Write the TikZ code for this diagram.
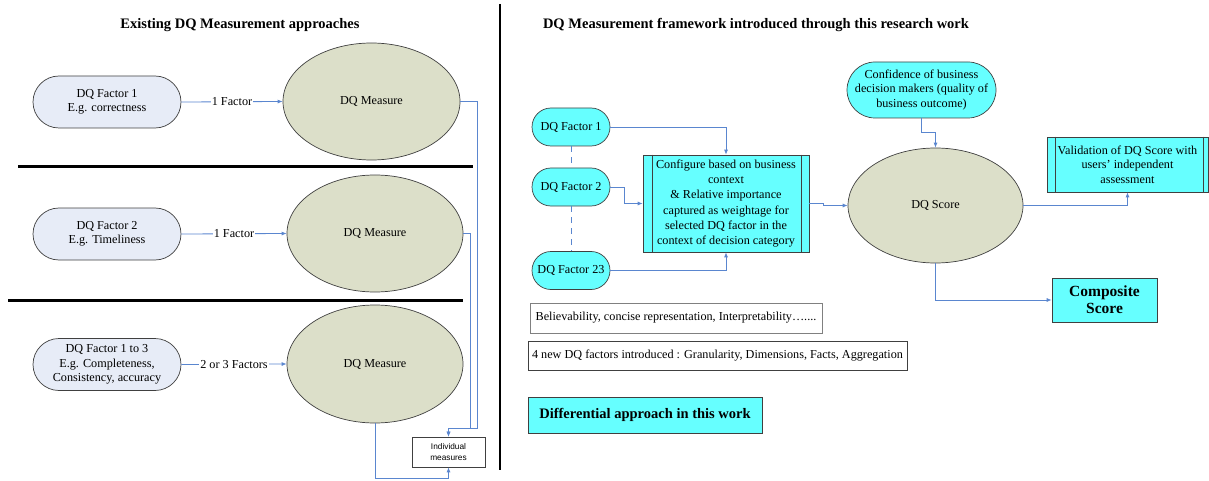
\documentclass[tikz,border=0pt]{standalone}
\usepackage{fontspec}
\setmainfont{Liberation Serif}
\newfontfamily\arialfont{Liberation Sans}
\usetikzlibrary{arrows.meta,calc,shapes.geometric}
\definecolor{linkblue}{HTML}{5A86CF}
\definecolor{aqua}{HTML}{66FFFF}
\definecolor{olive}{HTML}{DCDFC9}
\definecolor{paleblue}{HTML}{E7ECF7}
\definecolor{edge}{HTML}{404040}
\tikzset{
  conn/.style={draw=linkblue, line width=0.8pt, -{Latex[length=5pt,width=4pt]}},
  plainlink/.style={draw=linkblue, line width=1pt},
  pill/.style={draw=edge, line width=0.7pt, rounded corners=#1, align=center, inner sep=0pt},
  oldfactor/.style={pill=26pt, fill=paleblue, minimum width=148pt, minimum height=52pt, font=\fontsize{12.2}{14.5}\selectfont},
  newfactor/.style={pill=19pt, fill=aqua, minimum width=78pt, minimum height=38pt, font=\fontsize{12.2}{14.5}\selectfont},
  measure/.style={ellipse, draw=edge, line width=0.7pt, fill=olive, inner sep=0pt, font=\fontsize{12.2}{14.5}\selectfont},
  procbox/.style={draw=edge, line width=0.7pt, fill=aqua, align=center, inner sep=0pt},
  notebox/.style={draw=gray, line width=0.8pt, fill=white, inner sep=0pt, font=\fontsize{12.2}{14.5}\selectfont},
  divider/.style={line width=2.4pt, black},
  heading/.style={font=\fontsize{14.5}{17}\selectfont\bfseries},
  flabel/.style={fill=white, inner sep=1pt, font=\fontsize{12.2}{14}\selectfont}
}
\begin{document}
\begin{tikzpicture}[x=1pt,y=-1pt]
\useasboundingbox (0,0) rectangle (1209,481);

% headings and dividing rules
\node[heading] (h1) at (240,25) {Existing DQ Measurement approaches};
\node[heading] (h2) at (756,25) {DQ Measurement framework introduced through this research work};
\draw[divider] (500,4) -- (500,470);
\draw[divider] (18,166.5) -- (473,166.5);
\draw[divider] (8,300.5) -- (463,300.5);

% existing approaches
\node[oldfactor] (o1) at (107,102) {DQ Factor 1\\E.g. correctness};
\node[oldfactor] (o2) at (107,234) {DQ Factor 2\\E.g. Timeliness};
\node[oldfactor, font=\fontsize{12.2}{14.7}\selectfont] (o3) at (107,364.5) {DQ Factor 1 to 3\\E.g. Completeness,\\Consistency, accuracy};
\node[measure, minimum width=177pt, minimum height=117pt] (m1) at (371.5,101.5) {DQ Measure};
\node[measure, minimum width=176pt, minimum height=117pt] (m2) at (375,233.5) {DQ Measure};
\node[measure, minimum width=176pt, minimum height=118pt] (m3) at (375,364) {DQ Measure};
\node[draw=edge, line width=0.7pt, fill=white, minimum width=73pt, minimum height=30pt, inner sep=0pt, align=center,
      font=\arialfont\fontsize{8.3}{10.5}\selectfont] (im) at (448.5,452) {Individual\\measures};

\draw[conn] (o1.east) -- (m1.west) node[flabel, pos=0.5] {1 Factor};
\draw[conn] (o2.east) -- (m2.west) node[flabel, pos=0.5] {1 Factor};
\draw[conn] (o3.east) -- (m3.west) node[flabel, pos=0.5] {2 or 3 Factors};

\coordinate (j1) at (477.5,428);
\coordinate (j2) at (470,428);
\coordinate (j3) at (448.5,478);
\draw[conn] (m1.east) -| (j1) -| (im.north);
\draw[conn] (m2.east) -| (j2) -| (im.north);
\draw[conn] (m3.south) |- (j3) -- (im.south);

% proposed framework
\node[newfactor] (f1) at (571,127) {DQ Factor 1};
\node[newfactor] (f2) at (571,187) {DQ Factor 2};
\node[newfactor] (f23) at (571,270.5) {DQ Factor 23};
\draw[plainlink, dash pattern=on 6pt off 5pt] (f1.south) -- (f2.north);
\draw[plainlink, dash pattern=on 6pt off 5pt] (f2.south) -- (f23.north);

\node[procbox, minimum width=166pt, minimum height=97pt, font=\fontsize{12.2}{15.3}\selectfont] (cfg) at (726,203.5)
  {Configure based on business\\context\\\& Relative importance\\captured as weightage for\\selected DQ factor in the\\context of decision category};
\draw[edge, line width=0.7pt] ($(cfg.north west)+(10,0)$) -- ($(cfg.south west)+(10,0)$);
\draw[edge, line width=0.7pt] ($(cfg.north east)+(-8,0)$) -- ($(cfg.south east)+(-8,0)$);

\node[measure, minimum width=175pt, minimum height=115pt] (sc) at (935.5,205.5) {DQ Score};
\node[pill=28pt, fill=aqua, minimum width=149pt, minimum height=56pt, font=\fontsize{12.2}{14.5}\selectfont] (conf) at (921.5,90)
  {Confidence of business\\decision makers (quality of\\business outcome)};
\node[procbox, minimum width=161pt, minimum height=55pt, font=\fontsize{12.2}{14.3}\selectfont] (val) at (1127.5,164.5)
  {Validation of DQ Score with\\users’ independent\\assessment};
\draw[edge, line width=0.7pt] ($(val.north west)+(9,0)$) -- ($(val.south west)+(9,0)$);
\draw[edge, line width=0.7pt] ($(val.north east)+(-5,0)$) -- ($(val.south east)+(-5,0)$);
\node[procbox, minimum width=105pt, minimum height=44pt, font=\fontsize{15.5}{17.3}\selectfont\bfseries] (cs) at (1104.5,300)
  {Composite\\Score};

\draw[conn] (f1.east) -| (cfg.north);
\draw[conn] (f2.east) -- ++(14,0) |- (cfg.west);
\draw[conn] (f23.east) -| (cfg.south);
\draw[conn] (cfg.east) -- ++(14,0) |- (sc.west);
\draw[conn] (conf.south) -- ++(0,14) -| (sc.north);
\draw[conn] (sc.east) -| (val.south);
\draw[conn] (sc.south) |- (cs.west);

% notes
\node[notebox, minimum width=292pt, minimum height=30pt] (n1) at (676,318)
  {Believability, concise representation, Interpretability…....};
\node[notebox, draw=edge, minimum width=379pt, minimum height=29pt] (n2) at (717.5,355.5)
  {4 new DQ factors introduced : Granularity, Dimensions, Facts, Aggregation};
\node[procbox, minimum width=234pt, minimum height=36pt, font=\fontsize{14.5}{17}\selectfont\bfseries] (diff) at (645,415)
  {Differential approach in this work};
\end{tikzpicture}
\end{document}
